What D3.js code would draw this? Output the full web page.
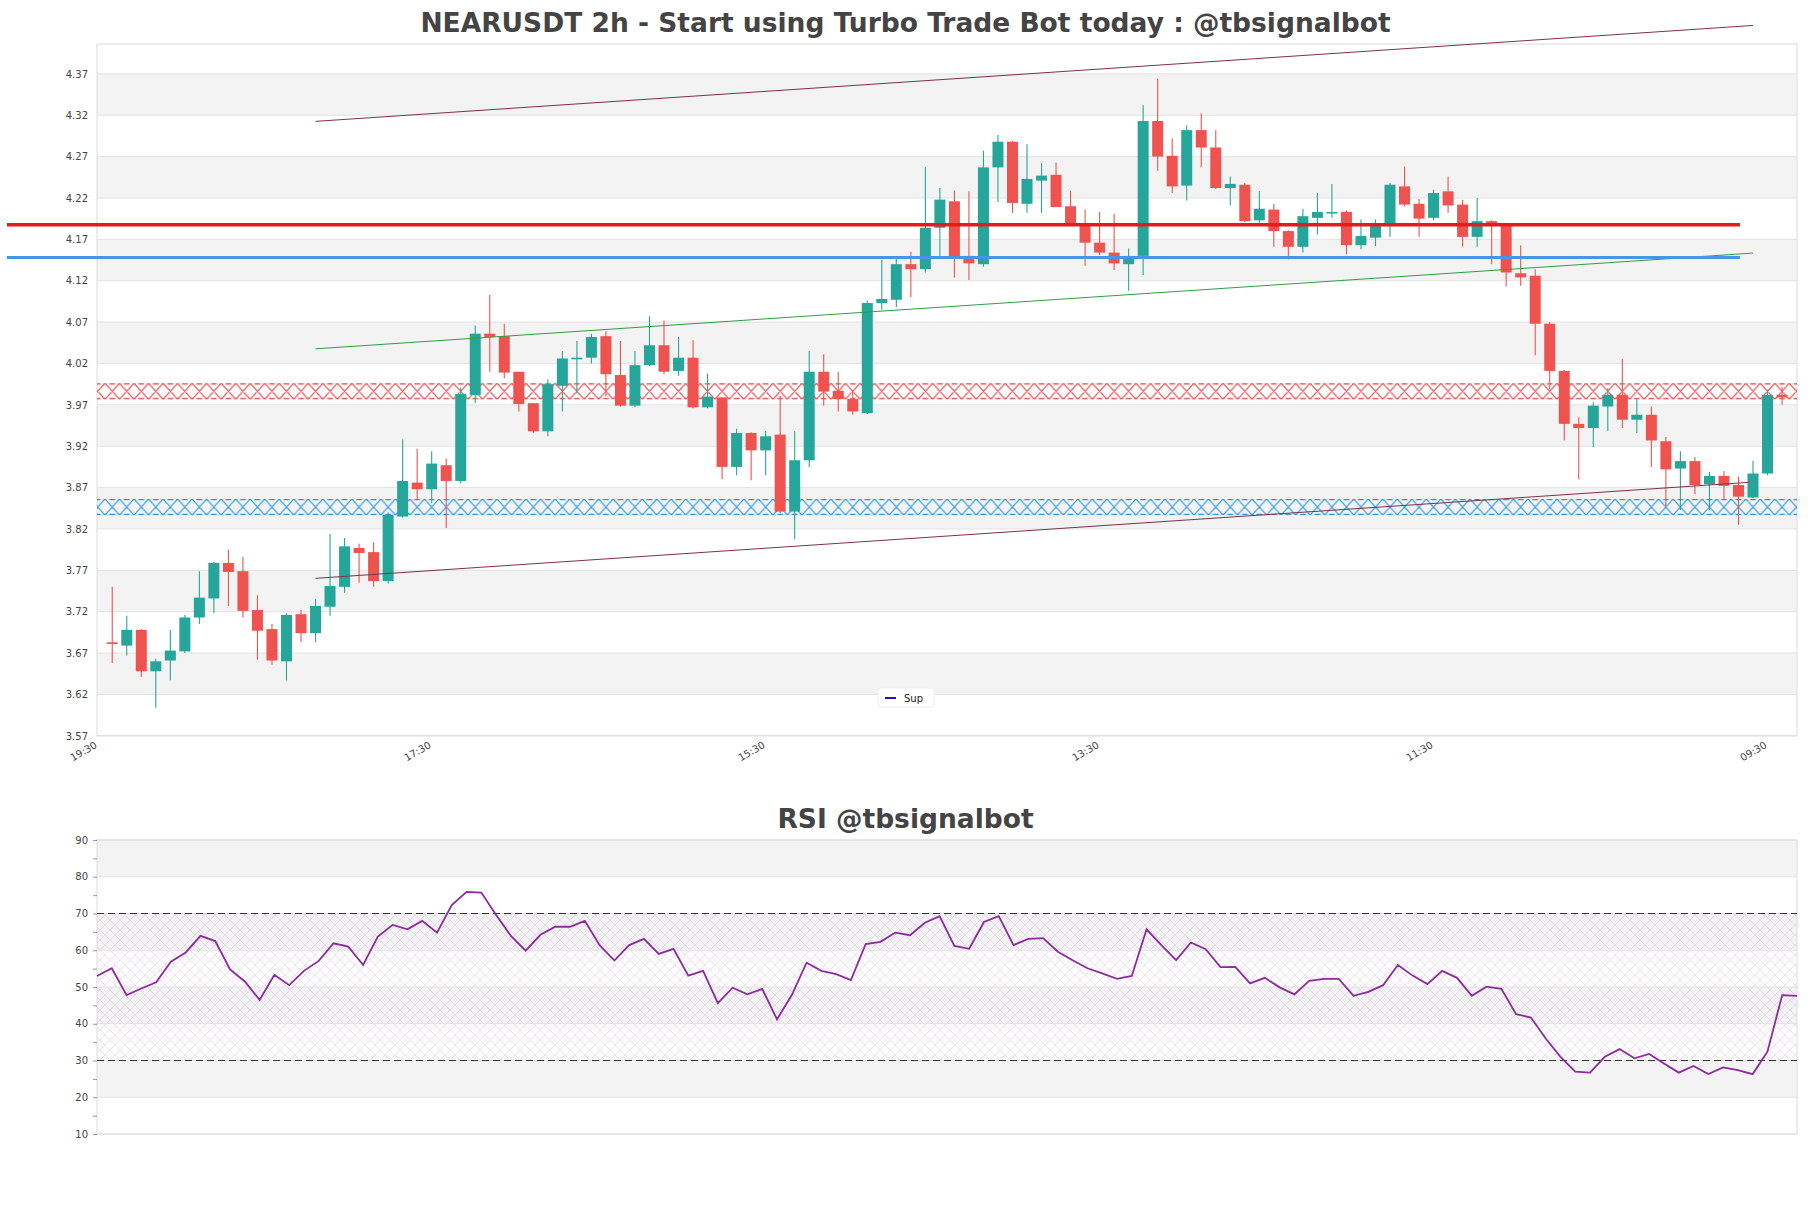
<!DOCTYPE html>
<html><head><meta charset="utf-8">
<script src="https://cdn.jsdelivr.net/npm/d3@7"></script>
<style>body{margin:0;background:#fff;} text{font-family:"DejaVu Sans",sans-serif;}</style>
</head><body><svg id="c" width="1811" height="1208"></svg>
<script>
// ---------------- data ----------------
const title = "NEARUSDT 2h - Start using Turbo Trade Bot today : @tbsignalbot";
const rsiTitle = "RSI @tbsignalbot";
const opens = [3.683,3.679,3.698,3.648,3.661,3.672,3.713,3.736,3.779,3.769,3.722,3.699,3.660,3.717,3.694,3.726,3.750,3.797,3.792,3.757,
3.835,3.876,3.868,3.897,3.878,3.982,4.056,4.053,4.010,3.972,3.938,3.993,4.025,4.027,4.053,4.006,3.969,4.018,4.042,4.011,
4.027,3.967,3.979,3.895,3.936,3.915,3.934,3.841,3.903,4.010,3.987,3.977,3.960,4.093,4.097,4.140,4.134,4.184,4.216,4.150,
4.140,4.257,4.288,4.213,4.241,4.248,4.210,4.189,4.166,4.154,4.140,4.150,4.313,4.271,4.235,4.302,4.281,4.232,4.236,4.193,
4.206,4.180,4.161,4.196,4.202,4.203,4.163,4.172,4.186,4.234,4.213,4.196,4.228,4.212,4.173,4.192,4.187,4.129,4.126,4.068,
4.011,3.947,3.942,3.968,3.982,3.952,3.958,3.926,3.893,3.902,3.874,3.884,3.873,3.858,3.887,3.982];
const highs = [3.750,3.715,3.699,3.663,3.698,3.716,3.769,3.780,3.795,3.786,3.740,3.705,3.718,3.722,3.735,3.814,3.809,3.802,3.804,3.840,
3.928,3.917,3.914,3.905,3.991,4.066,4.103,4.068,4.010,3.972,4.001,4.035,4.047,4.056,4.059,4.047,4.035,4.077,4.072,4.052,
4.048,4.008,3.979,3.941,3.937,3.938,3.981,3.938,4.035,4.031,4.010,3.988,4.096,4.145,4.146,4.155,4.257,4.232,4.229,4.228,
4.277,4.296,4.289,4.285,4.262,4.263,4.228,4.206,4.203,4.201,4.159,4.332,4.364,4.292,4.308,4.322,4.302,4.246,4.238,4.228,
4.213,4.181,4.207,4.226,4.237,4.205,4.194,4.194,4.238,4.258,4.219,4.230,4.246,4.218,4.220,4.193,4.190,4.163,4.134,4.070,
4.012,3.955,3.973,3.990,4.025,3.977,3.968,3.931,3.914,3.907,3.889,3.890,3.883,3.902,3.988,3.992];
const lows = [3.658,3.667,3.641,3.604,3.637,3.670,3.705,3.718,3.727,3.713,3.662,3.656,3.637,3.683,3.683,3.715,3.743,3.755,3.750,3.754,
3.834,3.855,3.851,3.821,3.875,3.972,4.010,4.002,3.962,3.936,3.932,3.962,3.984,4.020,3.980,3.968,3.967,4.017,4.007,4.005,
3.966,3.966,3.880,3.885,3.879,3.885,3.839,3.808,3.895,3.969,3.962,3.958,3.959,4.085,4.088,4.100,4.130,4.147,4.124,4.121,
4.137,4.215,4.202,4.202,4.202,4.209,4.187,4.138,4.151,4.133,4.108,4.127,4.253,4.226,4.217,4.257,4.231,4.211,4.191,4.189,
4.161,4.146,4.154,4.176,4.196,4.152,4.158,4.162,4.173,4.210,4.173,4.193,4.202,4.161,4.161,4.140,4.113,4.114,4.030,3.989,
3.927,3.880,3.919,3.938,3.942,3.936,3.895,3.847,3.843,3.862,3.843,3.856,3.825,3.857,3.885,3.970];
const closes = [3.681,3.698,3.648,3.660,3.673,3.713,3.737,3.779,3.768,3.721,3.697,3.661,3.716,3.694,3.727,3.751,3.799,3.791,3.757,3.837,
3.878,3.868,3.899,3.878,3.983,4.056,4.052,4.009,3.971,3.938,3.995,4.026,4.027,4.052,4.007,3.969,4.018,4.042,4.010,4.027,
3.967,3.980,3.895,3.936,3.915,3.932,3.841,3.903,4.010,3.986,3.977,3.962,4.093,4.098,4.140,4.134,4.184,4.218,4.149,4.141,
4.257,4.288,4.214,4.243,4.247,4.209,4.189,4.166,4.154,4.141,4.150,4.313,4.270,4.234,4.302,4.281,4.232,4.237,4.192,4.207,
4.180,4.161,4.198,4.203,4.203,4.163,4.174,4.187,4.236,4.212,4.195,4.226,4.211,4.173,4.192,4.187,4.130,4.124,4.068,4.011,
3.947,3.942,3.969,3.982,3.952,3.958,3.927,3.892,3.902,3.873,3.884,3.872,3.859,3.887,3.982,3.979];
const rsiValues = [53.0,55.1,47.8,49.6,51.3,56.9,59.4,63.9,62.5,54.8,51.5,46.5,53.3,50.5,54.4,57.1,61.9,61.0,56.0,63.7,
66.9,65.7,68.0,64.8,72.3,75.9,75.7,69.6,63.9,59.9,64.2,66.4,66.4,68.0,61.4,57.2,61.4,63.1,59.0,60.4,
53.1,54.4,45.6,49.8,48.0,49.5,41.2,47.8,56.6,54.4,53.5,51.9,61.7,62.3,64.8,64.1,67.5,69.3,61.2,60.4,
67.7,69.3,61.4,63.1,63.3,59.6,57.3,55.1,53.7,52.2,53.0,65.7,61.4,57.3,62.1,60.3,55.4,55.5,51.0,52.5,
49.9,48.0,51.7,52.2,52.2,47.6,48.7,50.5,56.0,53.1,50.8,54.4,52.5,47.6,50.1,49.5,42.6,41.7,36.0,31.0,
27.0,26.7,31.0,33.1,30.6,31.8,29.2,26.7,28.5,26.3,28.1,27.4,26.3,32.4,47.8,47.6];
const xTickIdx = [-1,22,45,68,91,114];
const xTickLabels = ["19:30","17:30","15:30","13:30","11:30","09:30"];
const yTickLabels = ["3.57","3.62","3.67","3.72","3.77","3.82","3.87","3.92","3.97","4.02","4.07","4.12","4.17","4.22","4.27","4.32","4.37"];
const rsiTicks = [10,15,20,25,30,35,40,45,50,55,60,65,70,75,80,85,90];
const resistanceZone = [3.9767, 3.996];
const supportZone = [3.8368, 3.8562];
const resistanceLevel = [4.1877];
const supportLevel = [4.1482];
const levelSpan = [-7.25, 112.1];
const channelTop = [[14, 4.3126],[113, 4.4285]];
const channelMid = [[14, 4.0377],[113, 4.1534]];
const channelBottom = [[14, 3.7603],[112.7, 3.8763]];
const legendLabels = ["Sup"];
const rsiLevels = [70, 30];

// ---------------- chart ----------------
const svg = d3.select('#c');
const UP = '#26a69a', DN = '#ef5350';
const P = {l:97, r:1797, t:44, b:735.8};
const x = d3.scaleLinear().domain([-1.05, 116.03]).range([P.l, P.r]);
const y = d3.scaleLinear().domain([3.57, 4.4061]).range([P.b, P.t]);
const yTicks = yTickLabels.map(Number);

const defs = svg.append('defs');
function zonePattern(id, color, h, y0) {
  const w = 14.52;
  const p = defs.append('pattern').attr('id', id).attr('patternUnits','userSpaceOnUse')
    .attr('width', w).attr('height', h).attr('x', x(0) - w/2).attr('y', y0);
  p.append('path').attr('d', `M0,0 L${w},${h} M0,${h} L${w},0 M${w*0.3},0.6 L${w*0.7},0.6 M${w*0.3},${h-0.6} L${w*0.7},${h-0.6} M0,0.6 L${w*0.1},0.6 M${w*0.9},0.6 L${w},0.6 M0,${h-0.6} L${w*0.1},${h-0.6} M${w*0.9},${h-0.6} L${w},${h-0.6}`)
    .attr('stroke', color).attr('stroke-width', 1.1).attr('fill','none');
}
const rzTop = y(resistanceZone[1]), rzH = y(resistanceZone[0]) - rzTop;
const szTop = y(supportZone[1]), szH = y(supportZone[0]) - szTop;
zonePattern('rz', '#e0393b', rzH, rzTop);
zonePattern('sz', '#1e93e0', szH, szTop);
const rh = defs.append('pattern').attr('id','rsih').attr('patternUnits','userSpaceOnUse').attr('width',10).attr('height',10);
rh.append('path').attr('d','M0,0 L10,10 M0,10 L10,0').attr('stroke','#c6b2d4').attr('stroke-width',0.6).attr('opacity',0.6);

// bands
const g = svg.append('g');
for (let k = 0; k < 8; k++) {
  g.append('rect').attr('x', P.l).attr('width', P.r - P.l)
   .attr('y', y(yTicks[2*k+2])).attr('height', y(yTicks[2*k+1]) - y(yTicks[2*k+2])).attr('fill', '#f3f3f3');
}
g.selectAll('.gl').data(yTicks).join('line').attr('x1', P.l).attr('x2', P.r)
  .attr('y1', d => y(d)).attr('y2', d => y(d)).attr('stroke', '#e2e2e2').attr('stroke-width', 1);
g.append('rect').attr('x', P.l).attr('y', P.t).attr('width', P.r-P.l).attr('height', P.b-P.t)
  .attr('fill','none').attr('stroke','#dcdcdc');

// zones
g.append('rect').attr('x', P.l).attr('width', P.r-P.l).attr('y', rzTop).attr('height', rzH).attr('fill','url(#rz)');
g.append('rect').attr('x', P.l).attr('width', P.r-P.l).attr('y', szTop).attr('height', szH).attr('fill','url(#sz)');

// y axis
const ya = svg.append('g').attr('transform', `translate(${P.l},0)`)
  .call(d3.axisLeft(y).tickValues(yTicks).tickFormat((d,i)=>yTickLabels[i]).tickSize(0).tickPadding(9));
ya.select('.domain').remove();
ya.selectAll('text').attr('font-size', 10).attr('fill', '#444').attr('font-family','"DejaVu Sans",sans-serif');

// x axis
const xa = svg.append('g').attr('transform', `translate(0,${P.b})`)
  .call(d3.axisBottom(x).tickValues(xTickIdx).tickFormat((d,i)=>xTickLabels[i]).tickSize(0));
xa.select('.domain').remove();
xa.selectAll('text').attr('x',0).attr('y',0).attr('dy','0.72em').attr('text-anchor','end')
  .attr('transform','translate(-4,5) rotate(-30)').attr('font-size',10).attr('fill','#444')
  .attr('font-family','"DejaVu Sans",sans-serif');

// candles
const idx = d3.range(opens.length);
const cg = svg.append('g');
cg.selectAll('.wick').data(idx).join('line')
  .attr('x1', i => x(i)).attr('x2', i => x(i))
  .attr('y1', i => y(highs[i])).attr('y2', i => y(lows[i]))
  .attr('stroke', i => closes[i] >= opens[i] ? UP : DN).attr('stroke-width', 1.1);
cg.selectAll('.body').data(idx).join('rect')
  .attr('x', i => x(i) - 5.5).attr('width', 11)
  .attr('y', i => y(Math.max(opens[i], closes[i])))
  .attr('height', i => Math.max(1.5, Math.abs(y(opens[i]) - y(closes[i]))))
  .attr('fill', i => closes[i] >= opens[i] ? UP : DN);

// channel lines
const ln = d3.line().x(d => x(d[0])).y(d => y(d[1]));
svg.append('path').attr('d', ln(channelTop)).attr('stroke','#7d3148').attr('stroke-width',1).attr('fill','none');
svg.append('path').attr('d', ln(channelMid)).attr('stroke','#2f9e44').attr('stroke-width',1).attr('fill','none');
svg.append('path').attr('d', ln(channelBottom)).attr('stroke','#7d3148').attr('stroke-width',1).attr('fill','none');

// horizontal levels
svg.append('line').attr('x1', x(levelSpan[0])).attr('x2', x(levelSpan[1]))
  .attr('y1', y(resistanceLevel[0])).attr('y2', y(resistanceLevel[0])).attr('stroke','#e31b1b').attr('stroke-width',3.5);
svg.append('line').attr('x1', x(levelSpan[0])).attr('x2', x(levelSpan[1]))
  .attr('y1', y(supportLevel[0])).attr('y2', y(supportLevel[0])).attr('stroke','#4695e6').attr('stroke-width',3);

// legend
const lg = svg.append('g').attr('transform','translate(878,688)');
lg.append('rect').attr('width',56).attr('height',19).attr('rx',3).attr('fill','#fff').attr('stroke','#eeeeee');
lg.append('line').attr('x1',7).attr('x2',18).attr('y1',10).attr('y2',10).attr('stroke','#1a1aa6').attr('stroke-width',2);
lg.append('text').attr('x',26).attr('y',14).attr('font-size',10).attr('fill','#222').text(legendLabels[0]);

// title
svg.append('text').attr('x', 905.5).attr('y', 32).attr('text-anchor','middle')
  .attr('font-size', 26.5).attr('font-weight','bold').attr('fill','#444').text(title);

// ---------------- RSI ----------------
const R = {l:97, r:1797, t:840, b:1134};
const xr = d3.scaleLinear().domain([0, rsiValues.length-1]).range([R.l, R.r]);
const yr = d3.scaleLinear().domain([10, 90]).range([R.b, R.t]);
const rg = svg.append('g');
[[80,90],[60,70],[40,50],[20,30]].forEach(b => {
  rg.append('rect').attr('x', R.l).attr('width', R.r-R.l).attr('y', yr(b[1])).attr('height', yr(b[0])-yr(b[1])).attr('fill','#f3f3f3');
});
rg.append('rect').attr('x', R.l).attr('width', R.r-R.l).attr('y', yr(70)).attr('height', yr(30)-yr(70)).attr('fill','url(#rsih)');
rg.selectAll('.rgl').data([10,20,30,40,50,60,70,80,90]).join('line')
  .attr('x1', R.l).attr('x2', R.r).attr('y1', d => yr(d)).attr('y2', d => yr(d)).attr('stroke','#e2e2e2');
rg.append('rect').attr('x', R.l).attr('y', R.t).attr('width', R.r-R.l).attr('height', R.b-R.t)
  .attr('fill','none').attr('stroke','#dcdcdc');
rg.selectAll('.lvl').data(rsiLevels).join('line')
  .attr('x1', R.l).attr('x2', R.r).attr('y1', d => yr(d)).attr('y2', d => yr(d))
  .attr('stroke','#333').attr('stroke-width',1.2).attr('stroke-dasharray','7,4');
const ra = svg.append('g').attr('transform', `translate(${R.l},0)`)
  .call(d3.axisLeft(yr).tickValues(rsiTicks).tickFormat(d => d % 10 === 0 ? d : '').tickSize(4).tickPadding(5));
ra.select('.domain').remove();
ra.selectAll('line').attr('stroke','#999');
ra.selectAll('text').attr('font-size', 10).attr('fill','#444').attr('font-family','"DejaVu Sans",sans-serif');
svg.append('path').datum(rsiValues)
  .attr('d', d3.line().x((d,i) => xr(i)).y(d => yr(d)))
  .attr('fill','none').attr('stroke','#8e2a9e').attr('stroke-width',1.8);
svg.append('text').attr('x', 905.5).attr('y', 828).attr('text-anchor','middle')
  .attr('font-size', 26.5).attr('font-weight','bold').attr('fill','#444').text(rsiTitle);
</script></body></html>
